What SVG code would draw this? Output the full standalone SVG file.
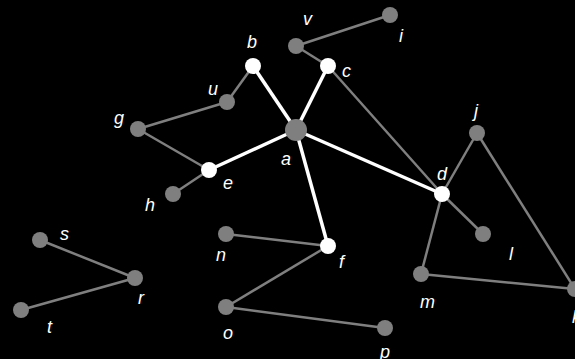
<svg xmlns="http://www.w3.org/2000/svg" width="575" height="359" viewBox="0 0 575 359">
<style>
.bg{fill:#000}
.ge{stroke:#7f7f7f;stroke-width:2.5;fill:none}
.we{stroke:#fff;stroke-width:3.5;fill:none}
.gn{fill:#7f7f7f}
.wn{fill:#fff}
text{font-family:"Liberation Sans",Arial,sans-serif;font-style:italic;font-size:18px;fill:#fff}
</style>
<rect class="bg" x="0" y="0" width="575" height="359"/>
<g id="edges">
<line class="ge" x1="296" y1="46" x2="390" y2="15"/>
<line class="ge" x1="296" y1="46" x2="328" y2="66"/>
<line class="ge" x1="253" y1="66" x2="227" y2="102"/>
<line class="ge" x1="227" y1="102" x2="138" y2="129"/>
<line class="ge" x1="138" y1="129" x2="209" y2="170"/>
<line class="ge" x1="209" y1="170" x2="173" y2="194"/>
<line class="ge" x1="328" y1="66" x2="442" y2="194"/>
<line class="ge" x1="442" y1="194" x2="477" y2="133"/>
<line class="ge" x1="477" y1="133" x2="575" y2="289"/>
<line class="ge" x1="442" y1="194" x2="483" y2="234"/>
<line class="ge" x1="442" y1="194" x2="421" y2="274"/>
<line class="ge" x1="421" y1="274" x2="575" y2="289"/>
<line class="ge" x1="226" y1="234" x2="328" y2="246"/>
<line class="ge" x1="328" y1="246" x2="226" y2="307"/>
<line class="ge" x1="226" y1="307" x2="385" y2="328"/>
<line class="ge" x1="40" y1="240" x2="135" y2="278"/>
<line class="ge" x1="135" y1="278" x2="21" y2="310"/>
<line class="we" x1="296" y1="130" x2="253" y2="66"/>
<line class="we" x1="296" y1="130" x2="328" y2="66"/>
<line class="we" x1="296" y1="130" x2="209" y2="170"/>
<line class="we" x1="296" y1="130" x2="328" y2="246"/>
<line class="we" x1="296" y1="130" x2="442" y2="194"/>
</g>
<g id="node-a"><circle class="gn" cx="296" cy="130" r="11"/><text x="281" y="165">a</text></g>
<g id="node-b"><circle class="wn" cx="253" cy="66" r="8"/><text x="247" y="48">b</text></g>
<g id="node-c"><circle class="wn" cx="328" cy="66" r="8"/><text x="342" y="77">c</text></g>
<g id="node-v"><circle class="gn" cx="296" cy="46" r="8"/><text x="303" y="25">v</text></g>
<g id="node-i"><circle class="gn" cx="390" cy="15" r="8"/><text x="399" y="42">i</text></g>
<g id="node-u"><circle class="gn" cx="227" cy="102" r="8"/><text x="208" y="95">u</text></g>
<g id="node-g"><circle class="gn" cx="138" cy="129" r="8"/><text x="114" y="124">g</text></g>
<g id="node-e"><circle class="wn" cx="209" cy="170" r="8"/><text x="223" y="189">e</text></g>
<g id="node-h"><circle class="gn" cx="173" cy="194" r="8"/><text x="145" y="211">h</text></g>
<g id="node-d"><circle class="wn" cx="442" cy="194" r="8"/><text x="437" y="180">d</text></g>
<g id="node-j"><circle class="gn" cx="477" cy="133" r="8"/><text x="474" y="117">j</text></g>
<g id="node-l"><circle class="gn" cx="483" cy="234" r="8"/><text x="509" y="260">l</text></g>
<g id="node-m"><circle class="gn" cx="421" cy="274" r="8"/><text x="420" y="308">m</text></g>
<g id="node-k"><circle class="gn" cx="575" cy="289" r="8"/><text x="572" y="323">k</text></g>
<g id="node-f"><circle class="wn" cx="328" cy="246" r="8"/><text x="339" y="268">f</text></g>
<g id="node-n"><circle class="gn" cx="226" cy="234" r="8"/><text x="216" y="261">n</text></g>
<g id="node-o"><circle class="gn" cx="226" cy="307" r="8"/><text x="223" y="339">o</text></g>
<g id="node-p"><circle class="gn" cx="385" cy="328" r="8"/><text x="380" y="358">p</text></g>
<g id="node-s"><circle class="gn" cx="40" cy="240" r="8"/><text x="60" y="240">s</text></g>
<g id="node-r"><circle class="gn" cx="135" cy="278" r="8"/><text x="138" y="304">r</text></g>
<g id="node-t"><circle class="gn" cx="21" cy="310" r="8"/><text x="47" y="333">t</text></g>
</svg>
